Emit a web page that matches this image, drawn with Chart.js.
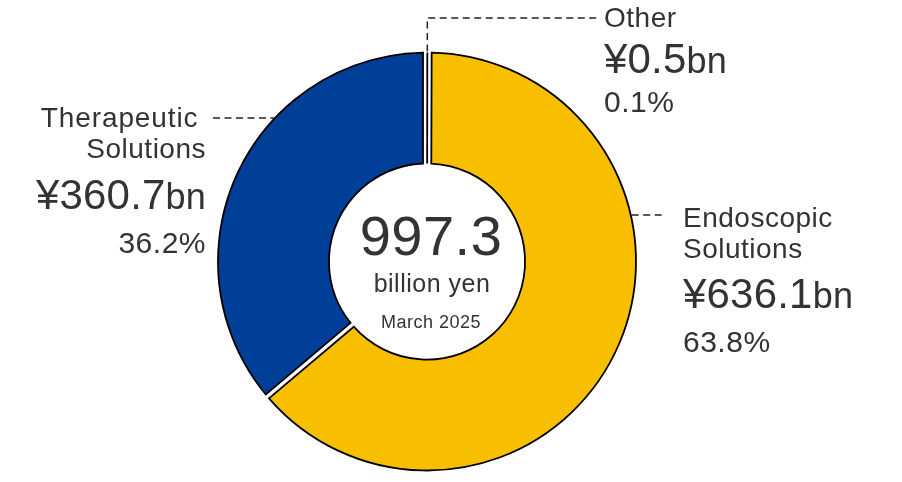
<!DOCTYPE html>
<html><head><meta charset="utf-8">
<script src="https://cdn.jsdelivr.net/npm/chart.js@4.4.1/dist/chart.umd.min.js"></script>
<style>html,body{margin:0;padding:0;background:#fff;overflow:hidden}#wrap{position:relative;width:902px;height:482px}</style>
</head><body><div id="wrap"><canvas id="c" width="902" height="482"></canvas></div>
<script>
// ---- data ----
const categories = ['Other', 'Endoscopic Solutions', 'Therapeutic Solutions'];
const labelLines = [['Other'], ['Endoscopic', 'Solutions'], ['Therapeutic', 'Solutions']];
const revenueBn = [0.5, 636.1, 360.7];
const sharePct = [0.1, 63.8, 36.2];
const totalBn = 997.3;
const totalUnit = 'billion yen';
const periodLabel = 'March 2025';

// ---- styles / layout ----
const sliceColors = ['#ffffff', '#F8BE00', '#003F98'];
const GAP = 5, H = GAP / 2, H_TINY = 4;
const TEXT = '#333333';
const FONT = '"Liberation Sans", Arial, Helvetica, sans-serif';
const labelLayout = [
  {align: 'left',  x: 604, base: [26.7, 73.3, 111.7], firstShift: 0, nameSpacing: 0.5},
  {align: 'left',  x: 683, base: [227, 258, 308.3, 351.7], firstShift: 0, nameSpacing: 0.5},
  {align: 'right', x: 206, base: [126.7, 158.3, 209.3, 253.3], firstShift: -7.5, nameSpacing: 0.9}
];

function geom(chart, i) {
  const arc = chart.getDatasetMeta(0).data[i];
  return arc.getProps(['x', 'y', 'startAngle', 'endAngle', 'innerRadius', 'outerRadius'], true);
}
function isTiny(g) {
  return (g.endAngle - g.startAngle) * (g.innerRadius + H) < GAP + 1;
}

const outlinePlugin = {
  id: 'outline',
  afterDatasetsDraw(chart) {
    const ctx = chart.ctx;
    const n = chart.getDatasetMeta(0).data.length;
    const gs = [];
    for (let i = 0; i < n; i++) gs.push(geom(chart, i));
    // widen the white gap around very thin slices
    gs.forEach(g => {
      if (!isTiny(g)) return;
      const m = (g.startAngle + g.endAngle) / 2;
      ctx.save();
      ctx.strokeStyle = '#fff';
      ctx.lineWidth = H_TINY * 2;
      ctx.beginPath();
      ctx.moveTo(g.x + Math.cos(m) * (g.innerRadius - 3), g.y + Math.sin(m) * (g.innerRadius - 3));
      ctx.lineTo(g.x + Math.cos(m) * (g.outerRadius + 3), g.y + Math.sin(m) * (g.outerRadius + 3));
      ctx.stroke();
      ctx.restore();
    });
    gs.forEach((g, i) => {
      const ro = g.outerRadius - H, ri = g.innerRadius + H;
      const prevTiny = isTiny(gs[(i - 1 + n) % n]);
      const nextTiny = isTiny(gs[(i + 1) % n]);
      ctx.save();
      ctx.strokeStyle = '#000';
      ctx.lineWidth = 1.8;
      ctx.beginPath();
      if (isTiny(g)) {
        const m = (g.startAngle + g.endAngle) / 2;
        ctx.moveTo(g.x + Math.cos(m) * ri, g.y + Math.sin(m) * ri);
        ctx.lineTo(g.x + Math.cos(m) * ro, g.y + Math.sin(m) * ro);
      } else {
        const hs = prevTiny ? H_TINY : H, he = nextTiny ? H_TINY : H;
        ctx.arc(g.x, g.y, ro, g.startAngle + Math.asin(hs / ro), g.endAngle - Math.asin(he / ro));
        ctx.arc(g.x, g.y, ri, g.endAngle - Math.asin(he / ri), g.startAngle + Math.asin(hs / ri), true);
        ctx.closePath();
      }
      ctx.stroke();
      ctx.restore();
    });
  }
};

function drawParts(ctx, parts, x, y, align) {
  let w = 0;
  parts.forEach(p => { ctx.font = p.size + 'px ' + FONT; w += ctx.measureText(p.text).width; });
  let cx = align === 'right' ? x - w : (align === 'center' ? x - w / 2 : x);
  ctx.textAlign = 'left';
  ctx.textBaseline = 'alphabetic';
  parts.forEach(p => {
    ctx.font = p.size + 'px ' + FONT;
    ctx.fillText(p.text, cx, y);
    cx += ctx.measureText(p.text).width;
  });
}

function dashed(ctx, pts) {
  ctx.save();
  ctx.strokeStyle = '#222';
  ctx.lineWidth = 1.5;
  ctx.setLineDash([7, 4.5]);
  ctx.beginPath();
  ctx.moveTo(pts[0][0], pts[0][1]);
  for (let k = 1; k < pts.length; k++) ctx.lineTo(pts[k][0], pts[k][1]);
  ctx.stroke();
  ctx.restore();
}

const labelPlugin = {
  id: 'labels',
  afterDraw(chart) {
    const ctx = chart.ctx;
    const g0 = geom(chart, 0);
    const R = g0.outerRadius - H + 0.9;
    const cx = g0.x, cy = g0.y;
    ctx.save();
    ctx.fillStyle = TEXT;
    labelLines.forEach((lines, i) => {
      const L = labelLayout[i];
      let k = 0;
      lines.forEach((t, j) => {
        ctx.letterSpacing = (j === 0 ? L.nameSpacing : 0.5) + 'px';
        drawParts(ctx, [{text: t, size: 28}], L.x + (j === 0 ? L.firstShift : 0), L.base[k++], L.align);
      });
      ctx.letterSpacing = '0.2px';
      drawParts(ctx, [{text: '¥' + revenueBn[i].toFixed(1), size: 42}, {text: 'bn', size: 36}], L.x, L.base[k++], L.align);
      ctx.letterSpacing = '0.5px';
      drawParts(ctx, [{text: sharePct[i].toFixed(1) + '%', size: 30}], L.x, L.base[k++], L.align);
    });
    ctx.letterSpacing = '0.5px';
    drawParts(ctx, [{text: totalBn.toFixed(1), size: 56}], cx + 4, 255, 'center');
    drawParts(ctx, [{text: totalUnit, size: 25}], cx + 5, 291.7, 'center');
    drawParts(ctx, [{text: periodLabel, size: 18}], cx + 4, 328.3, 'center');
    ctx.restore();

    const m0 = (g0.startAngle + g0.endAngle) / 2;
    const topX = cx + Math.cos(m0) * R, topY = cy + Math.sin(m0) * R;
    dashed(ctx, [[topX, topY], [topX, 18], [597, 18]]);
    const yT = 118, yE = 215;
    dashed(ctx, [[213, yT], [cx - Math.sqrt(R * R - (cy - yT) * (cy - yT)), yT]]);
    dashed(ctx, [[cx + Math.sqrt(R * R - (cy - yE) * (cy - yE)), yE], [665, yE]]);
  }
};

new Chart(document.getElementById('c'), {
  type: 'doughnut',
  data: {
    labels: categories,
    datasets: [{
      data: revenueBn,
      backgroundColor: sliceColors,
      borderColor: '#ffffff',
      borderWidth: GAP,
      hoverOffset: 0
    }]
  },
  options: {
    responsive: false,
    animation: false,
    events: [],
    radius: 211.5,
    cutout: 98.5,
    rotation: 0,
    layout: {padding: {left: 0, right: 48, top: 41, bottom: 0}},
    plugins: {legend: {display: false}, tooltip: {enabled: false}}
  },
  plugins: [outlinePlugin, labelPlugin]
});
</script>
</body></html>
